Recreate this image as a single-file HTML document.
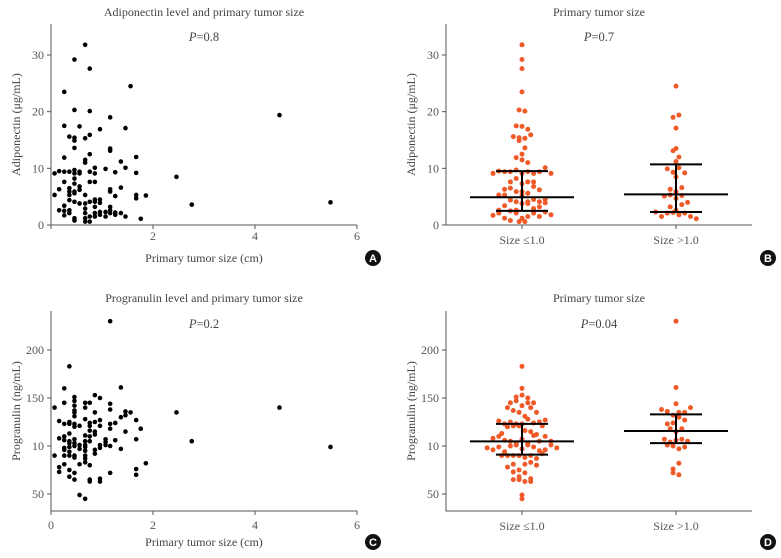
<!DOCTYPE html>
<html><head><meta charset="utf-8">
<style>
html,body{margin:0;padding:0;background:#fff;}
svg{display:block;font-family:"Liberation Serif",serif;}
</style></head>
<body>
<svg id="fig" width="781" height="558" viewBox="0 0 781 558" xmlns="http://www.w3.org/2000/svg"></svg>
<script>
// Panel A data: tumor size (cm) and adiponectin (ug/mL)
const adipoSize = [0.07,0.07,0.16,0.16,0.16,0.26,0.26,0.26,0.26,0.26,0.26,0.26,0.26,0.36,0.36,0.36,0.36,0.36,0.36,0.36,0.36,0.46,0.46,0.46,0.46,0.46,0.46,0.46,0.46,0.46,0.46,0.46,0.46,0.46,0.46,0.56,0.56,0.56,0.56,0.56,0.56,0.67,0.67,0.67,0.67,0.67,0.67,0.67,0.67,0.67,0.67,0.76,0.76,0.76,0.76,0.76,0.76,0.76,0.76,0.76,0.86,0.86,0.86,0.86,0.86,0.86,0.86,0.86,0.96,0.96,0.96,0.96,0.96,1.07,1.07,1.07,1.16,1.16,1.16,1.16,1.16,1.16,1.16,1.16,1.26,1.26,1.26,1.26,1.37,1.37,1.37,1.46,1.46,1.46,1.56,1.67,1.67,1.67,1.67,1.76,1.86,2.46,2.76,4.48,5.48];
const adipoVal = [9.1,5.3,9.5,6.3,2.6,23.5,17.5,11.9,9.4,7.6,3.4,2.5,1.7,15.6,9.4,6.5,5.9,5.3,4.4,2.6,2.1,29.2,20.3,15.4,14.9,13.6,9.7,9.1,8.2,7.3,5.9,5.6,4.1,1.2,0.8,17.4,9.4,9.1,6.8,6.2,3.8,31.8,15.3,11.5,11.0,5.3,3.8,2.9,2.1,1.2,0.6,27.6,20.1,15.9,12.5,9.4,7.6,4.1,1.5,0.6,10.1,9.1,7.6,4.5,4.1,3.2,2.1,1.5,16.9,4.5,3.9,2.3,1.8,9.9,2.3,1.5,19.0,13.5,13.1,6.3,5.9,3.2,2.6,2.1,9.3,5.1,2.2,1.8,11.2,6.6,2.1,17.1,10.1,1.5,24.5,12.0,9.2,5.3,4.7,1.1,5.2,8.5,3.6,19.4,4.0];
// Panel C data: tumor size (cm) and progranulin (ng/mL)
const progSize = [0.07,0.07,0.16,0.16,0.16,0.16,0.26,0.26,0.26,0.26,0.26,0.26,0.26,0.26,0.26,0.36,0.36,0.36,0.36,0.36,0.36,0.36,0.36,0.36,0.36,0.36,0.46,0.46,0.46,0.46,0.46,0.46,0.46,0.46,0.46,0.46,0.46,0.46,0.46,0.46,0.46,0.56,0.56,0.56,0.56,0.56,0.67,0.67,0.67,0.67,0.67,0.67,0.67,0.67,0.67,0.67,0.67,0.67,0.76,0.76,0.76,0.76,0.76,0.76,0.76,0.76,0.76,0.86,0.86,0.86,0.86,0.86,0.86,0.86,0.96,0.96,0.96,0.96,0.96,0.96,0.96,1.07,1.07,1.07,1.16,1.16,1.16,1.16,1.16,1.16,1.16,1.26,1.26,1.37,1.37,1.37,1.46,1.46,1.46,1.56,1.67,1.67,1.67,1.67,1.76,1.86,2.46,2.76,4.48,5.48];
const progVal = [140,90,126,108,78,73,160,145,123,110,106,98,96,90,81,183,125,123,113,105,103,99,94,90,75,68,151,147,142,137,135,131,123,120,107,103,100,90,88,72,65,121,101,97,81,49,145,140,128,111,105,101,99,95,90,87,83,45,145,124,121,116,110,105,80,65,63,153,135,125,115,112,96,92,150,127,121,101,98,66,63,107,104,101,230,144,138,123,118,100,72,124,106,161,130,97,136,132,115,135,127,107,76,70,118,82,135,105,140,99];
// Summary lines (median, Q1, Q3) per group
const groupLabels = ["Size \u22641.0","Size >1.0"];
const adipoMedian = [4.9,5.4], adipoQ1 = [2.5,2.3], adipoQ3 = [9.5,10.7];
const progMedian = [104.8,115.6], progQ1 = [91,103], progQ3 = [123,133];
const adipoTicks = [0,10,20,30];
const progTicks = [50,100,150,200];
const progTickLabels = ["50","10","150","200"];
const sizeTicks = [0,2,4,6];

const NS="http://www.w3.org/2000/svg";
const svg=document.getElementById('fig');
function mk(tag,attrs,parent,txt){const e=document.createElementNS(NS,tag);for(const k in attrs)e.setAttribute(k,attrs[k]);if(txt!==undefined)e.textContent=txt;(parent||svg).appendChild(e);return e;}

function scaleY(v0,p0,v1,p1){return v=>p0+(v-v0)*(p1-p0)/(v1-v0);}
const yA=scaleY(0,225,30,55);
const yC=scaleY(50,494,200,350);
const xS=v=>51+v*51;

function panelFrame(g,ox,top,bottom,right,title,titleY,pText,pY,yLabel,xLabel,letter,letterY){
  const mid=(ox+51+right)/2;
  let t=mk('text',{x:mid,y:titleY,'text-anchor':'middle','font-size':12,fill:'#444'},g,title);
  
  
  let p=mk('text',{x:mid,y:pY,'text-anchor':'middle','font-size':12.5,fill:'#444'},g);
  
  
  mk('tspan',{'font-style':'italic'},p,'P');
  mk('tspan',{},p,'=' + pText);
  let ax=mk('path',{d:`M${ox+51} ${top} V${bottom} H${right}`,stroke:'#555','stroke-width':1,fill:'none'},g);
  
  
  let yl=mk('text',{x:0,y:0,transform:`translate(${ox+20},${(top+bottom)/2}) rotate(-90)`,'text-anchor':'middle','font-size':12,fill:'#444'},g,yLabel);
  
  
  if(xLabel){let xl=mk('text',{x:mid,y:letterY+4,'text-anchor':'middle','font-size':12,fill:'#444'},g,xLabel);
    
    }
  let c=mk('circle',{cx:ox+373,cy:letterY,r:8,fill:'#111'},g);
  
  
  mk('text',{x:ox+373,y:letterY+4,'text-anchor':'middle','font-size':11,'font-weight':'bold','font-family':'Liberation Sans, sans-serif',fill:'#fff'},g,letter);
}
function yTicks(g,ox,ys,ticks,labels){
  ticks.forEach((v,i)=>{
    mk('line',{x1:ox+51,x2:ox+47,y1:ys(v),y2:ys(v),stroke:'#555'},g);
    let t=mk('text',{x:ox+44,y:ys(v)+4,'text-anchor':'end','font-size':12,fill:'#555'},g,labels?labels[i]:String(v));
    
    
  });
}
function xTicksNum(g,bottom,lblY,showZero){
  sizeTicks.forEach(v=>{
    mk('line',{x1:xS(v),x2:xS(v),y1:bottom,y2:bottom+4,stroke:'#555'},g);
    if(v===0&&!showZero)return;
    let t=mk('text',{x:xS(v),y:lblY,'text-anchor':'middle','font-size':12,fill:'#555'},g,String(v));
    
    
  });
}
function scatter(g,xs,ys,ysc){
  xs.forEach((x,i)=>{
    let c=mk('circle',{cx:xS(x),cy:ysc(ys[i]),r:2.3,fill:'#000'},g);
    
    
  });
}
const centers=[522,676];
function swarm(g,sizes,vals,ysc,med,q1,q3,bottom){
  [0,1].forEach(gi=>{
    const pts=[];
    vals.forEach((v,i)=>{if((sizes[i]<=1.0)===(gi===0))pts.push(ysc(v));});
    const bin=9;const rows={};
    pts.forEach(py=>{const k=Math.round((bottom-py)/bin);(rows[k]=rows[k]||[]).push(py);});
    const d=5.8;
    Object.keys(rows).forEach(k=>{
      const r=rows[k];const n=r.length;
      r.forEach((py,j)=>{
        const off=(j-(n-1)/2)*d;
        let c=mk('circle',{cx:centers[gi]+off,cy:py,r:2.5,fill:'#f05a28'},g);
        
        
      });
    });
    const cx=centers[gi];
    let wl=mk('line',{x1:cx,x2:cx,y1:ysc(q1[gi]),y2:ysc(q3[gi]),stroke:'#000','stroke-width':2},g);
    
    
    let ml=mk('line',{x1:cx-52,x2:cx+52,y1:ysc(med[gi]),y2:ysc(med[gi]),stroke:'#000','stroke-width':2},g);
    
    
    [q1,q3].forEach(q=>{
      let l=mk('line',{x1:cx-26,x2:cx+26,y1:ysc(q[gi]),y2:ysc(q[gi]),stroke:'#000','stroke-width':2},g);
      
      
    });
    mk('line',{x1:cx,x2:cx,y1:bottom,y2:bottom+4,stroke:'#555'},g);
    let t=mk('text',{x:cx,y:bottom+19,'text-anchor':'middle','font-size':12,fill:'#555'},g,groupLabels[gi]);
    
    
  });
}

// Panel A
let gA=mk('g',{});
panelFrame(gA,0,24,225,357,'Adiponectin level and primary tumor size',16,'0.8',41,'Adiponectin (\u03bcg/mL)','Primary tumor size (cm)','A',258);
yTicks(gA,0,yA,adipoTicks);xTicksNum(gA,225,240,false);scatter(gA,adipoSize,adipoVal,yA);
// Panel B
let gB=mk('g',{});
panelFrame(gB,395,24,225,752,'Primary tumor size',16,'0.7',41,'Adiponectin (\u03bcg/mL)',null,'B',258);
yTicks(gB,395,yA,adipoTicks);swarm(gB,adipoSize,adipoVal,yA,adipoMedian,adipoQ1,adipoQ3,225);
// Panel C
let gC=mk('g',{});
panelFrame(gC,0,311,511,357,'Progranulin level and primary tumor size',302,'0.2',328,'Progranulin (ng/mL)','Primary tumor size (cm)','C',542);
yTicks(gC,0,yC,progTicks,progTickLabels);xTicksNum(gC,511,529,true);scatter(gC,progSize,progVal,yC);
// Panel D
let gD=mk('g',{});
panelFrame(gD,395,311,511,752,'Primary tumor size',302,'0.04',328,'Progranulin (ng/mL)',null,'D',542);
yTicks(gD,395,yC,progTicks,progTickLabels);swarm(gD,progSize,progVal,yC,progMedian,progQ1,progQ3,511);
</script>
</body></html>
